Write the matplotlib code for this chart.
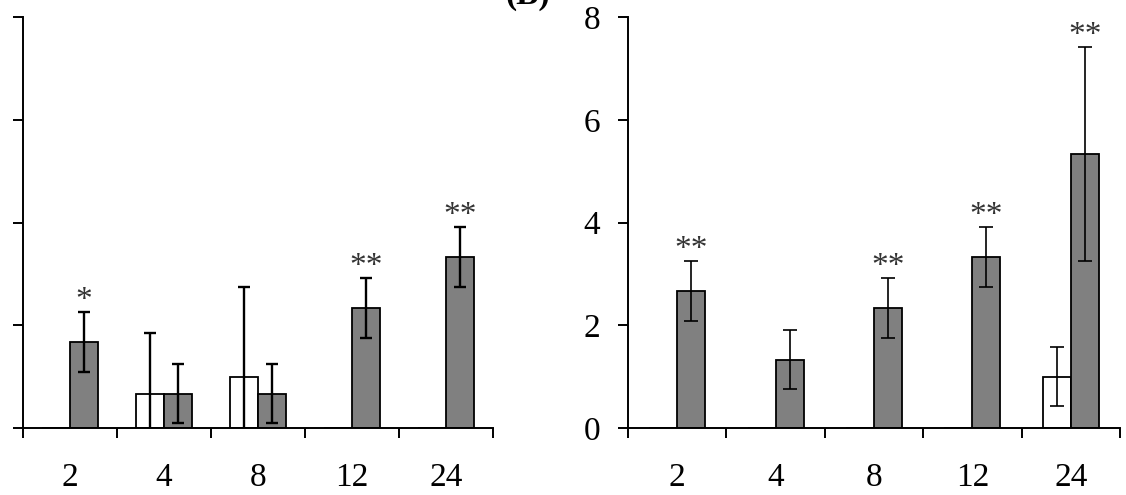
import matplotlib
matplotlib.use("Agg")
import matplotlib.pyplot as plt
import numpy as np

plt.rcParams['font.family'] = ['Liberation Serif', 'DejaVu Serif']

categories = ['2', '4', '8', '12', '24']

# Panel A (left)
a_white = [0.0, 0.67, 1.0, 0.0, 0.0]
a_white_err = [0.0, 1.18, 1.74, 0.0, 0.0]
a_gray = [1.67, 0.67, 0.67, 2.33, 3.33]
a_gray_err = [0.58, 0.58, 0.58, 0.58, 0.58]
a_stars = ['*', '', '', '**', '**']

# Panel B (right)
b_white = [0.0, 0.0, 0.0, 0.0, 1.0]
b_white_err = [0.0, 0.0, 0.0, 0.0, 0.58]
b_gray = [2.67, 1.33, 2.33, 3.33, 5.33]
b_gray_err = [0.58, 0.58, 0.58, 0.58, 2.08]
b_stars = ['**', '', '**', '**', '**']

y_ticks = [0, 2, 4, 6, 8]

W, H = 1126, 495
fig = plt.figure(figsize=(W / 100, H / 100), dpi=100)

def px_axes(x0, x1, ytop, ybot):
    return fig.add_axes([x0 / W, (H - ybot) / H, (x1 - x0) / W, (ybot - ytop) / H])

axA = px_axes(23, 493, 17, 428)
axB = px_axes(628, 1120, 17, 428)

GRAY = '#808080'

def draw(ax, white, white_err, gray, gray_err, stars, width, elw, cap, show_ylabels):
    x = np.arange(len(categories))
    ax.bar(x - width, white, width, align='edge', color='white',
           edgecolor='black', linewidth=1.3, zorder=2)
    ax.bar(x, gray, width, align='edge', color=GRAY,
           edgecolor='black', linewidth=1.3, zorder=2)
    for xi, v, e in zip(x, white, white_err):
        if e > 0:
            ax.errorbar(xi - width / 2, v, yerr=e, fmt='none', ecolor='black',
                        elinewidth=elw, capsize=cap, capthick=elw, zorder=3)
    for xi, v, e, s in zip(x, gray, gray_err, stars):
        if e > 0:
            ax.errorbar(xi + width / 2, v, yerr=e, fmt='none', ecolor='black',
                        elinewidth=elw, capsize=cap, capthick=elw, zorder=3)
        if s:
            ax.annotate(s, (xi + width / 2, v + e), xytext=(0, 2.5),
                        textcoords='offset points', ha='center', va='baseline',
                        fontsize=24, color='#333333', annotation_clip=False)
    ax.set_xlim(-0.5, len(categories) - 0.5)
    ax.set_ylim(0, 8)
    ax.set_xticks(np.arange(len(categories) + 1) - 0.5)
    ax.set_xticklabels([])
    ax.set_xticks(x, minor=True)
    ax.set_xticklabels(categories, minor=True, fontsize=24)
    ax.tick_params(axis='x', which='major', direction='out', length=7.5, width=1.4)
    ax.tick_params(axis='x', which='minor', length=0, pad=25)
    ax.set_yticks(y_ticks)
    if show_ylabels:
        ax.set_yticklabels([str(t) for t in y_ticks], fontsize=24)
    else:
        ax.set_yticklabels([])
    ax.tick_params(axis='y', direction='out', length=7.5, width=1.4, pad=12.5)
    for sp in ['top', 'right']:
        ax.spines[sp].set_visible(False)
    for sp in ['left', 'bottom']:
        ax.spines[sp].set_linewidth(1.4)
    ax.patch.set_alpha(0)

draw(axA, a_white, a_white_err, a_gray, a_gray_err, a_stars, 0.30, 1.7, 4.3, False)
draw(axB, b_white, b_white_err, b_gray, b_gray_err, b_stars, 0.285, 1.2, 5, True)

fig.text(528 / W, 1 - 4 / H, '(B)', ha='center', va='baseline',
         fontsize=24, fontweight='bold')

fig.savefig('out.png', dpi=100)
